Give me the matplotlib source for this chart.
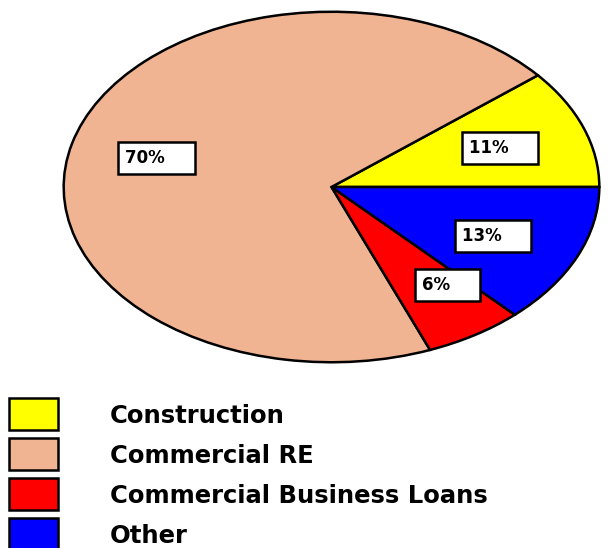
import matplotlib
matplotlib.use("Agg")
import matplotlib.pyplot as plt
from matplotlib.patches import Rectangle

# data
categories = ["Construction", "Commercial RE", "Commercial Business Loans", "Other"]
shares = [11, 70, 6, 13]
pct_labels = ["11%", "70%", "6%", "13%"]
colors = ["#ffff00", "#f0b493", "#ff0000", "#0000ff"]

W, H = 611, 548
fig = plt.figure(figsize=(W / 100, H / 100), dpi=100)

# pie axes spans the elliptical pie area (pixels 61..602 x 10..364)
px0, px1, py0, py1 = 61, 602, 10, 364
ax = fig.add_axes([px0 / W, 1 - py1 / H, (px1 - px0) / W, (py1 - py0) / H])
ax.pie(shares, colors=colors, startangle=0, counterclock=True, radius=1,
       wedgeprops=dict(edgecolor="black", linewidth=1.8))
ax.set_xlim(-1.01, 1.01)
ax.set_ylim(-1.01, 1.01)
ax.set_aspect("auto")
ax.axis("off")

cx, cy = (px0 + px1) / 2, (py0 + py1) / 2
rx, ry = (px1 - px0) / 2, (py1 - py0) / 2

# label box left edges (pixels) for each slice
label_pos = [(470, 148), (123, 158), (423, 286), (463, 236)]
for (lx, ly), txt in zip(label_pos, pct_labels):
    ax.text((lx - cx) / rx, (cy - ly) / ry, txt + "    ", ha="left", va="center",
            fontsize=12, fontweight="bold", family="DejaVu Sans",
            bbox=dict(boxstyle="square,pad=0.42", facecolor="white",
                      edgecolor="black", linewidth=1.8))

# legend drawn in pixel coordinates
lax = fig.add_axes([0, 0, 1, 1])
lax.set_xlim(0, W)
lax.set_ylim(H, 0)
lax.axis("off")
for i, (name, c) in enumerate(zip(categories, colors)):
    y = 398 + i * 40
    lax.add_patch(Rectangle((9, y), 49, 32, facecolor=c, edgecolor="black", linewidth=1.8))
    lax.text(110, y + 18, name, ha="left", va="center", fontsize=17.5,
             fontweight="bold", family="DejaVu Sans")

fig.savefig("out.png", dpi=100)
